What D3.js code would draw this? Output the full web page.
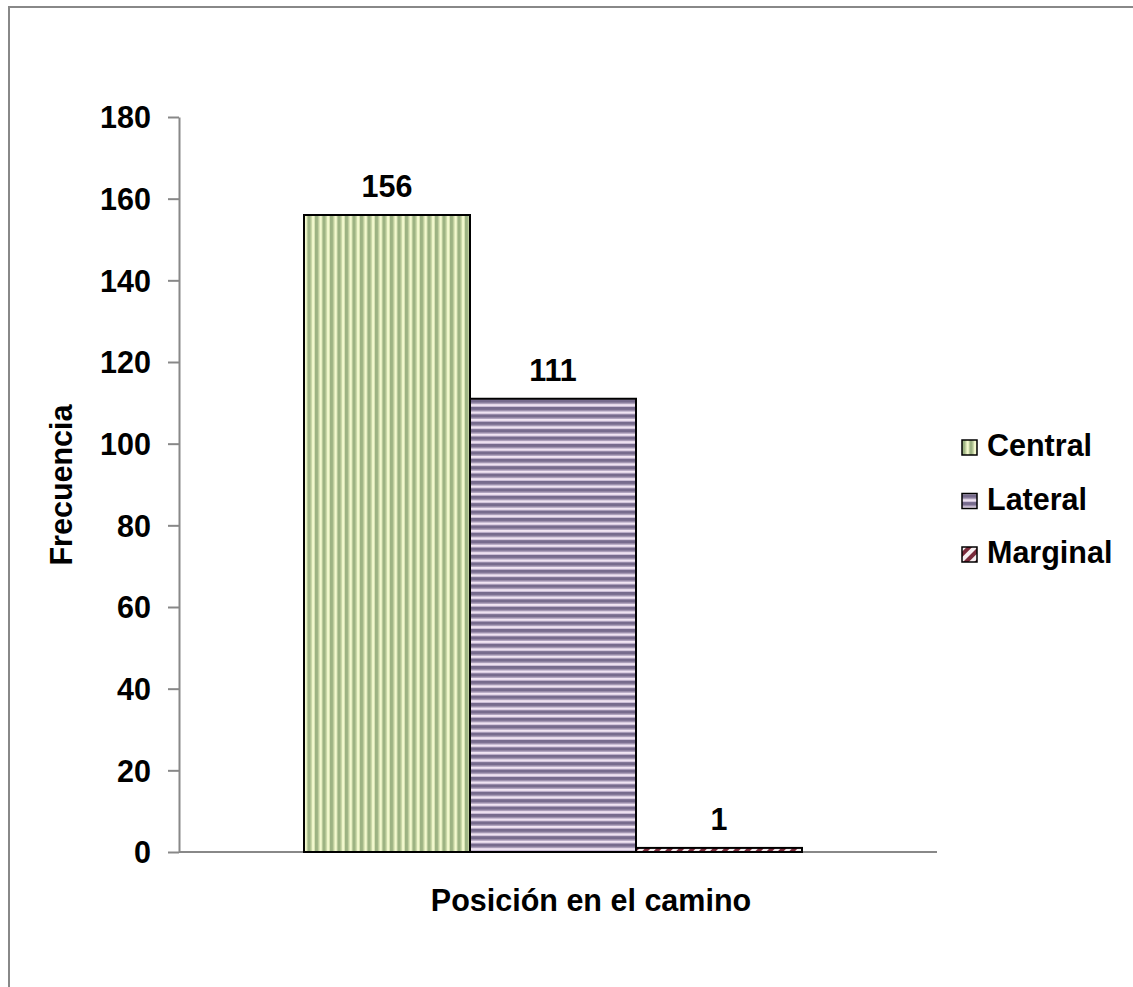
<!DOCTYPE html>
<html>
<head>
<meta charset="utf-8">
<script src="https://cdn.jsdelivr.net/npm/d3@7"></script>
<style>
  html, body { margin: 0; padding: 0; background: #fff; }
  svg { display: block; font-family: Arial, "Liberation Sans", sans-serif; }
</style>
</head>
<body>
<svg id="chart" width="1133" height="987"></svg>
<script>
// Frecuencia por posición en el camino
const categories = ["Central", "Lateral", "Marginal"];
const values = [156, 111, 1];
const yTicks = [0, 20, 40, 60, 80, 100, 120, 140, 160, 180];
const yTitle = "Frecuencia";
const xTitle = "Posición en el camino";

const FONT = "Arial, 'Liberation Sans', sans-serif";
const FS = 30.5;

const svg = d3.select("#chart");
const defs = svg.append("defs");

// Fill patterns: vertical stripes, horizontal stripes, diagonal hatch
const pV = defs.append("pattern").attr("id", "pat-central")
  .attr("patternUnits", "userSpaceOnUse").attr("width", 7.5).attr("height", 10);
pV.append("rect").attr("width", 7.5).attr("height", 10).attr("fill", "#f4fad0");
pV.append("rect").attr("x", 0).attr("width", 3.5).attr("height", 10).attr("fill", "#9db383");
pV.append("rect").attr("x", 3.5).attr("width", 1).attr("height", 10).attr("fill", "#c9d8a4");
pV.append("rect").attr("x", 6.5).attr("width", 1).attr("height", 10).attr("fill", "#d6e2b2");

const pH = defs.append("pattern").attr("id", "pat-lateral")
  .attr("patternUnits", "userSpaceOnUse").attr("width", 10).attr("height", 7.4);
pH.append("rect").attr("width", 10).attr("height", 7.4).attr("fill", "#f1e5f3");
pH.append("rect").attr("y", 0).attr("width", 10).attr("height", 3.5).attr("fill", "#776b8d");
pH.append("rect").attr("y", 3.5).attr("width", 10).attr("height", 1).attr("fill", "#ab9ebb");
pH.append("rect").attr("y", 6.4).attr("width", 10).attr("height", 1).attr("fill", "#c8bad4");

const pD = defs.append("pattern").attr("id", "pat-marginal")
  .attr("patternUnits", "userSpaceOnUse").attr("width", 8).attr("height", 8)
  .attr("patternTransform", "rotate(45)");
pD.append("rect").attr("width", 8).attr("height", 8).attr("fill", "#f6eef0");
pD.append("rect").attr("width", 4).attr("height", 8).attr("fill", "#7a2a3a");

const fills = ["url(#pat-central)", "url(#pat-lateral)", "url(#pat-marginal)"];

// Outer chart-area border
svg.append("rect")
  .attr("x", 9).attr("y", 7).attr("width", 1140).attr("height", 1000)
  .attr("fill", "none").attr("stroke", "#888").attr("stroke-width", 2);

// Plot geometry
const plot = { left: 179, right: 937, top: 117, bottom: 852 };

const y = d3.scaleLinear().domain([0, 180]).range([plot.bottom, plot.top]);
const x = d3.scaleBand().domain(categories).range([304, 802]).paddingInner(0).paddingOuter(0);

// Y axis
const yAxis = svg.append("g")
  .attr("transform", `translate(${plot.left},0)`)
  .call(d3.axisLeft(y).tickValues(yTicks).tickSize(11).tickPadding(17).tickSizeOuter(0));
yAxis.select(".domain").attr("stroke", "#888").attr("stroke-width", 2);
yAxis.selectAll(".tick line").attr("stroke", "#888").attr("stroke-width", 2);
yAxis.selectAll(".tick text")
  .attr("font-size", FS).attr("font-weight", "bold").attr("fill", "#000")
  .attr("font-family", FONT)
  .attr("dy", "0.36em");

// X axis baseline
svg.append("line")
  .attr("x1", plot.left).attr("x2", plot.right)
  .attr("y1", plot.bottom).attr("y2", plot.bottom)
  .attr("stroke", "#888").attr("stroke-width", 2);

// Bars
svg.append("g").selectAll("rect")
  .data(categories)
  .join("rect")
  .attr("x", d => x(d))
  .attr("y", (d, i) => y(values[i]))
  .attr("width", x.bandwidth())
  .attr("height", (d, i) => y(0) - y(values[i]))
  .attr("fill", (d, i) => fills[i])
  .attr("stroke", "#000")
  .attr("stroke-width", 2);

// Value labels
svg.append("g").selectAll("text")
  .data(categories)
  .join("text")
  .attr("x", d => x(d) + x.bandwidth() / 2)
  .attr("y", (d, i) => y(values[i]) - 18)
  .attr("text-anchor", "middle")
  .attr("font-size", FS).attr("font-weight", "bold")
  .text((d, i) => values[i]);

// Axis titles
svg.append("text")
  .attr("transform", `translate(72,485) rotate(-90)`)
  .attr("text-anchor", "middle")
  .attr("font-size", FS).attr("font-weight", "bold")
  .text(yTitle);

svg.append("text")
  .attr("x", 591).attr("y", 911)
  .attr("text-anchor", "middle")
  .attr("font-size", FS).attr("font-weight", "bold")
  .text(xTitle);

// Legend
const legend = svg.append("g");
const legendRows = legend.selectAll("g")
  .data(categories)
  .join("g")
  .attr("transform", (d, i) => `translate(962,${456 + i * 53.5})`);
legendRows.append("rect")
  .attr("x", 0).attr("y", -16).attr("width", 15).attr("height", 15)
  .attr("fill", (d, i) => fills[i])
  .attr("stroke", "#000").attr("stroke-width", 1.5);
legendRows.append("text")
  .attr("x", 25).attr("y", 0)
  .attr("font-size", FS).attr("font-weight", "bold")
  .text(d => d);
</script>
</body>
</html>
